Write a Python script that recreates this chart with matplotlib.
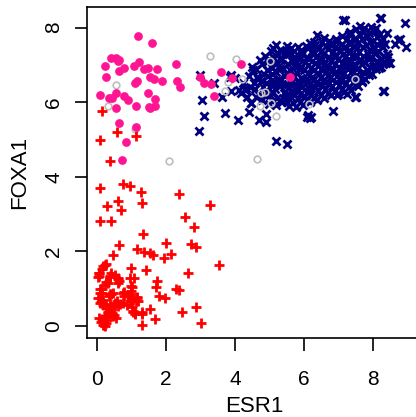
import numpy as np
from matplotlib import pyplot as plt

plt.rcParams['font.family'] = ['Liberation Sans', 'DejaVu Sans']

# ESR1 / FOXA1 expression, one pair of lists per group
red_x = [0.15, 0.59, 0.09, 1.12, 0.39, 0.09, 0.74, 0.96, 1.27, 2.37, 3.27, 0.29, 0.61, 0.70, 1.30,
         0.08, 0.41, 2.54, 2.82, 1.33, 1.99, 0.65, 1.15, 1.35, 1.54, 1.63, 2.14, 1.93, 2.72, 2.88,
         0.46, 1.43, 2.65, 0.99, 0.22, 0.15, 0.06, 0.03, 0.41, 0.37, 0.61, 0.64, 0.97, 1.07, 0.27,
         0.22, 1.75, 1.72, 2.28, 2.37, 1.02, 0.99, 0.15, 0.08, 0.41, 0.36, 0.74, 0.77, 0.98, 0.99,
         1.17, 1.12, 1.80, 1.98, 0.03, 0.12, 0.17, 0.27, 0.51, 0.61, 0.88, 1.01, 0.37, 0.43, 1.04,
         1.09, 1.31, 1.54, 1.67, 2.46, 2.86, 3.02, 1.30, 0.05, 0.12, 0.22, 0.29, 0.17, 0.22, 0.49,
         0.56, 0.32, 3.54, 0.07, 0.05, 0.18, 0.26, 0.38, 0.52, 0.60, 0.62, 0.31, 0.09, 0.14, 0.38,
         0.47, 0.18, 0.09, 0.25, 0.38, 0.52, 0.57, 0.67, 0.33, 0.23, 0.14, 0.26, 0.20, 0.38, 0.47,
         0.79, 0.91, 1.00, 1.05, 0.96, 1.15, 1.20, 1.10, 1.05, 1.32, 0.76]
red_y = [5.76, 5.19, 4.99, 5.09, 4.42, 3.69, 3.81, 3.75, 3.59, 3.54, 3.24, 3.23, 3.35, 3.12, 3.29,
         2.82, 2.82, 2.93, 2.65, 2.47, 2.22, 2.18, 2.06, 1.99, 1.97, 1.90, 1.93, 1.83, 2.20, 2.11,
         1.90, 1.50, 1.43, 1.55, 1.64, 1.54, 1.43, 1.32, 1.43, 1.32, 1.28, 1.21, 1.28, 1.28, 1.17,
         1.10, 1.21, 1.06, 0.99, 0.97, 1.04, 0.95, 0.99, 0.89, 0.86, 0.80, 0.89, 0.80, 0.86, 0.76,
         0.77, 0.67, 0.80, 0.74, 0.74, 0.65, 0.56, 0.48, 0.62, 0.54, 0.57, 0.52, 0.49, 0.36, 0.38,
         0.32, 0.32, 0.47, 0.19, 0.38, 0.50, 0.07, 0.03, 0.21, 0.12, 0.25, 0.16, 0.03, 0.00, 0.29,
         0.21, 0.38, 1.64, 1.43, 1.34, 1.60, 1.65, 1.34, 1.38, 1.25, 1.16, 1.16, 0.98, 0.89, 0.85,
         0.89, 0.71, 0.62, 0.53, 0.58, 0.53, 0.67, 0.58, 0.36, 0.27, 0.18, 0.09, 0.04, 0.31, 0.27,
         0.91, 0.82, 1.07, 0.71, 0.67, 0.76, 0.67, 0.36, 0.40, 0.37, 0.62]

pink_x = [1.19, 1.60, 0.40, 0.56, 0.63, 0.60, 0.22, 0.77, 0.64, 1.07, 1.22, 1.36, 1.48, 1.74, 2.28,
          0.25, 1.09, 1.17, 1.53, 1.64, 1.88, 2.32, 2.40, 0.08, 0.34, 0.43, 0.56, 0.77, 0.90, 1.12,
          1.49, 1.67, 1.50, 1.54, 1.69, 0.55, 0.63, 1.14, 0.83, 0.72, 2.99, 3.10, 3.31, 3.40, 3.61,
          3.91, 4.18, 5.59]
pink_y = [7.76, 7.58, 7.19, 7.18, 7.14, 7.09, 6.98, 6.91, 6.84, 6.96, 7.07, 6.88, 6.91, 6.88, 7.03,
          6.67, 6.52, 6.58, 6.67, 6.61, 6.58, 6.58, 6.40, 6.19, 6.10, 6.10, 6.24, 6.17, 6.06, 5.91,
          6.25, 6.09, 5.88, 5.84, 5.89, 5.84, 5.45, 5.33, 4.92, 4.44, 6.67, 6.52, 6.48, 6.17, 6.82,
          6.64, 7.03, 6.68]

gray_x = [0.54, 0.32, 1.09, 2.08, 3.28, 4.03, 4.22, 3.79, 3.70, 4.75, 5.04, 4.74, 5.18, 4.63,
          6.15, 7.48, 5.01, 4.87]
gray_y = [6.46, 5.90, 5.27, 4.42, 7.24, 7.15, 6.62, 6.53, 6.29, 6.25, 5.97, 5.90, 5.64, 4.49,
          5.94, 6.62, 7.10, 6.28]

navy_x = [4.58, 4.66, 4.62, 4.70, 4.55, 4.78, 4.82, 4.85, 4.80, 4.88, 4.76, 4.90,
          4.98, 5.02, 5.05, 4.96, 5.08, 5.00, 5.06, 5.10,
          5.18, 5.22, 5.15, 5.25, 5.20, 5.16, 5.24, 5.20, 5.28,
          5.38, 5.42, 5.36, 5.45, 5.40, 5.35, 5.44, 5.48,
          5.58, 5.62, 5.55, 5.65, 5.60, 5.66, 5.57, 5.63, 5.68,
          5.78, 5.82, 5.76, 5.85, 5.80, 5.84, 5.75, 5.83, 5.88,
          5.98, 6.02, 5.96, 6.05, 6.00, 6.04, 5.95, 6.06, 6.08,
          6.18, 6.22, 6.15, 6.25, 6.20, 6.16, 6.24, 6.19, 6.12, 6.20,
          6.38, 6.42, 6.36, 6.45, 6.40, 6.35, 6.44, 6.39, 6.48, 6.30,
          6.58, 6.62, 6.55, 6.65, 6.60, 6.56, 6.64, 6.59, 6.68,
          6.78, 6.82, 6.76, 6.85, 6.80, 6.84, 6.75, 6.88,
          6.98, 7.02, 6.95, 7.05, 7.00, 7.04, 6.96, 7.08,
          7.18, 7.22, 7.15, 7.25, 7.20, 7.16, 7.24, 7.14, 7.28,
          7.38, 7.42, 7.36, 7.45, 7.40, 7.44, 7.35, 7.48, 7.46,
          7.58, 7.62, 7.55, 7.65, 7.60, 7.56, 7.64, 7.62, 7.68,
          7.78, 7.82, 7.76, 7.85, 7.80, 7.84, 7.75, 7.88,
          7.98, 8.02, 7.96, 8.05, 8.00, 8.04, 7.95,
          8.18, 8.22, 8.15, 8.25, 8.20, 8.20, 8.25, 8.32,
          8.38, 8.42, 8.36, 8.40, 8.45,
          8.65, 8.73, 8.96, 8.93, 8.47, 8.78, 8.49,
          2.99, 3.06, 3.11, 2.97, 3.71, 4.10, 4.41, 4.70, 4.91, 5.19, 5.52, 3.90, 3.63, 3.39,
          4.46, 3.86, 6.86, 6.08, 6.17, 7.50, 8.30, 7.19, 8.25, 4.61, 4.12, 4.32, 4.43, 3.90,
          4.00, 4.46, 4.90, 4.19, 4.29, 4.53, 4.72, 4.63, 4.25, 4.40, 4.50, 4.35, 6.95, 7.24,
          7.57, 7.33, 6.28, 5.92,
          4.92, 4.94, 4.91, 4.95,
          5.12, 5.10, 5.13, 5.09, 5.12, 5.11,
          5.30, 5.32, 5.29, 5.31, 5.33, 5.30,
          5.50, 5.52, 5.49, 5.51, 5.53, 5.50, 5.52,
          5.70, 5.72, 5.69, 5.71, 5.73, 5.70, 5.72,
          5.90, 5.92, 5.89, 5.91, 5.93, 5.90, 5.92,
          6.10, 6.12, 6.09, 6.11, 6.13, 6.10, 6.12,
          6.30, 6.32, 6.29, 6.31, 6.33, 6.30, 6.32,
          6.50, 6.52, 6.49, 6.51, 6.53, 6.50, 6.52,
          6.70, 6.72, 6.69, 6.71, 6.73, 6.70, 6.72,
          6.90, 6.92, 6.89, 6.91, 6.93, 6.90, 6.92,
          7.10, 7.12, 7.09, 7.11, 7.13, 7.10, 7.12,
          7.30, 7.32, 7.29, 7.31, 7.33, 7.30, 7.32,
          7.50, 7.52, 7.49, 7.51, 7.53, 7.50, 7.52,
          7.70, 7.72, 7.69, 7.71, 7.73, 7.70, 7.72,
          7.90, 7.92, 7.89, 7.91, 7.93, 7.90,
          8.10, 8.12, 8.09, 8.11, 8.13, 8.10,
          8.30, 8.32, 8.29, 8.31]
navy_y = [6.35, 6.62, 6.88, 6.20, 6.50, 6.05, 6.40, 6.75, 7.02, 7.25, 6.58, 6.22,
          5.95, 6.18, 6.45, 6.70, 6.92, 7.15, 7.38, 6.60,
          5.92, 6.12, 6.35, 6.55, 6.80, 7.05, 7.30, 7.52, 6.98,
          6.00, 6.25, 6.48, 6.70, 6.92, 7.18, 7.38, 6.10,
          5.90, 6.15, 6.38, 6.58, 6.85, 7.10, 7.30, 7.45, 6.30,
          5.86, 6.08, 6.32, 6.52, 6.78, 7.00, 7.22, 7.48, 6.90,
          5.92, 6.15, 6.40, 6.62, 6.85, 7.08, 7.30, 7.50, 6.28,
          6.00, 6.22, 6.45, 6.68, 6.92, 7.15, 7.38, 7.58, 5.65, 5.60,
          6.05, 6.30, 6.52, 6.75, 6.98, 7.22, 7.45, 7.80, 7.10, 7.62,
          6.12, 6.35, 6.58, 6.80, 7.02, 7.28, 7.50, 7.72, 6.95,
          6.20, 6.42, 6.65, 6.88, 7.10, 7.35, 7.55, 7.25,
          6.22, 6.45, 6.70, 6.92, 7.15, 7.40, 7.65, 6.58,
          6.28, 6.50, 6.75, 6.98, 7.20, 7.45, 7.70, 8.20, 7.08,
          6.32, 6.55, 6.80, 7.02, 7.25, 7.50, 7.88, 6.15, 7.68,
          6.42, 6.65, 6.90, 7.12, 7.35, 7.58, 7.80, 8.05, 6.55,
          6.62, 6.85, 7.08, 7.30, 7.52, 7.75, 7.98, 7.15,
          6.75, 6.98, 7.20, 7.42, 7.65, 7.90, 8.02,
          6.92, 7.15, 7.38, 7.60, 7.82, 8.25, 6.95, 6.31,
          7.05, 7.30, 7.55, 7.85, 7.20,
          7.55, 7.67, 7.49, 8.11, 7.04, 7.68, 7.05,
          6.73, 6.06, 5.63, 5.24, 5.72, 5.51, 5.74, 5.52, 5.48, 4.96, 4.87, 6.30, 6.13, 6.52,
          5.99, 6.68, 5.76, 5.60, 5.57, 6.15, 6.31, 8.20, 8.25, 6.13, 6.33, 6.37, 6.40, 6.73,
          6.64, 5.97, 5.68, 6.24, 6.33, 6.86, 7.13, 6.68, 6.50, 6.70, 6.95, 6.15, 6.20, 6.22,
          6.61, 7.55, 7.45, 7.35,
          6.30, 6.85, 6.52, 7.10,
          6.02, 6.28, 6.48, 6.75, 7.20, 7.45,
          6.05, 6.42, 6.62, 6.88, 7.12, 7.40,
          6.00, 6.22, 6.48, 6.78, 7.02, 7.28, 7.50,
          5.98, 6.20, 6.45, 6.70, 6.95, 7.18, 7.38,
          6.00, 6.25, 6.45, 6.65, 6.95, 7.15, 7.40,
          6.05, 6.38, 6.55, 6.78, 7.00, 7.22, 7.45,
          6.12, 6.40, 6.62, 6.85, 7.05, 7.32, 7.52,
          6.18, 6.45, 6.68, 6.90, 7.15, 7.38, 7.62,
          6.25, 6.50, 6.72, 6.98, 7.20, 7.42, 7.65,
          6.30, 6.55, 6.78, 7.02, 7.25, 7.48, 7.68,
          6.35, 6.62, 6.85, 7.05, 7.30, 7.55, 7.78,
          6.40, 6.65, 6.90, 7.15, 7.38, 7.60, 7.82,
          6.48, 6.72, 6.98, 7.22, 7.45, 7.70, 7.95,
          6.58, 6.80, 7.02, 7.25, 7.48, 7.70, 7.92,
          6.72, 6.95, 7.18, 7.40, 7.62, 7.85,
          6.88, 7.10, 7.32, 7.55, 7.75, 7.98,
          7.02, 7.25, 7.48, 7.70]

fig = plt.figure(figsize=(4.16, 4.17), dpi=100)
ax = fig.add_axes([87/416, 1 - 338/417, 334/416, 331/417])

ax.plot(navy_x, navy_y, 'x', color='#000080', ms=6, mew=2.0, ls='none')
ax.plot(gray_x, gray_y, 'o', mfc='none', mec='#BEBEBE', ms=4.8, mew=1.2, ls='none')
ax.plot(red_x, red_y, '+', color='#FF0000', ms=7.2, mew=2.0, ls='none')
ax.plot(pink_x, pink_y, 'o', color='#FF1493', ms=6.3, mew=0, ls='none')

ax.set_xlim(-0.29, 9.4)
ax.set_ylim(-0.32, 8.55)
ax.set_xticks([0, 2, 4, 6, 8])
ax.set_yticks([0, 2, 4, 6, 8])
for s in ax.spines.values():
    s.set_linewidth(1.2)
ax.tick_params(direction='out', length=9, width=1.2, labelsize=15, pad=14)
ax.tick_params(axis='y', labelrotation=90, pad=8)
for t in ax.get_yticklabels():
    t.set_va('center')

ax.set_xlabel('ESR1', fontsize=16)
ax.set_ylabel('FOXA1', fontsize=16)
ax.xaxis.set_label_coords(0.5, -0.175)
ax.yaxis.set_label_coords(-0.17, 0.5)

fig.savefig('out.png', dpi=100)
